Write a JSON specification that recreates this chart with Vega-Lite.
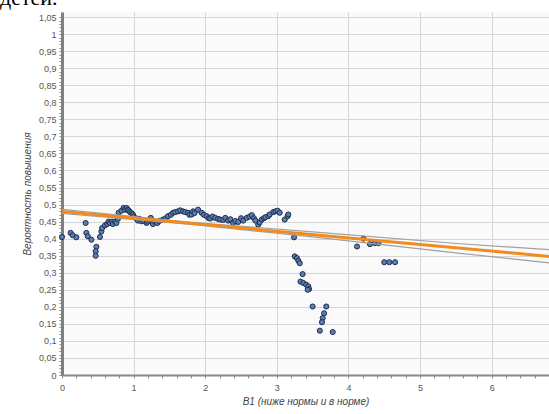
{
  "$schema": "https://vega.github.io/schema/vega-lite/v6.json",
  "width": 487,
  "height": 363,
  "autosize": "none",
  "padding": {"left": 62, "top": 12, "right": 0, "bottom": 39},
  "background": "white",
  "title": {
    "text": "детей.",
    "anchor": "start",
    "frame": "group",
    "font": "Liberation Serif",
    "fontSize": 22,
    "fontWeight": "normal",
    "color": "#000000",
    "baseline": "alphabetic",
    "offset": 0,
    "dx": -62,
    "dy": 15
  },
  "config": {
    "view": {"fill": "#fafafa", "stroke": null},
    "axis": {
      "labelFont": "Liberation Sans",
      "titleFont": "Liberation Sans",
      "labelColor": "#555555",
      "titleColor": "#444444",
      "labelFontSize": 9,
      "titleFontSize": 10,
      "titleFontStyle": "italic",
      "titleFontWeight": "normal",
      "gridColor": "#d6d6d6",
      "gridWidth": 1,
      "domainColor": "#888888",
      "tickColor": "#888888",
      "labelOverlap": false,
      "labelBound": false,
      "labelFlush": false
    }
  },
  "datasets": {
    "pts": [
      {"x": 0.0, "y": 0.405}, {"x": 0.12, "y": 0.417}, {"x": 0.15, "y": 0.41}, {"x": 0.2, "y": 0.404},
      {"x": 0.33, "y": 0.446}, {"x": 0.34, "y": 0.417}, {"x": 0.36, "y": 0.407}, {"x": 0.41, "y": 0.397},
      {"x": 0.48, "y": 0.376}, {"x": 0.47, "y": 0.363}, {"x": 0.47, "y": 0.35}, {"x": 0.53, "y": 0.405},
      {"x": 0.55, "y": 0.421}, {"x": 0.56, "y": 0.431}, {"x": 0.6, "y": 0.439}, {"x": 0.63, "y": 0.443},
      {"x": 0.65, "y": 0.45}, {"x": 0.67, "y": 0.446}, {"x": 0.7, "y": 0.45}, {"x": 0.71, "y": 0.443},
      {"x": 0.74, "y": 0.45}, {"x": 0.76, "y": 0.446}, {"x": 0.78, "y": 0.458}, {"x": 0.79, "y": 0.476},
      {"x": 0.83, "y": 0.482}, {"x": 0.86, "y": 0.49}, {"x": 0.88, "y": 0.485}, {"x": 0.9, "y": 0.49},
      {"x": 0.92, "y": 0.485}, {"x": 0.93, "y": 0.483}, {"x": 0.95, "y": 0.478}, {"x": 0.97, "y": 0.475},
      {"x": 0.99, "y": 0.471}, {"x": 1.0, "y": 0.465}, {"x": 1.03, "y": 0.46}, {"x": 1.06, "y": 0.453},
      {"x": 1.08, "y": 0.458}, {"x": 1.11, "y": 0.451}, {"x": 1.14, "y": 0.452}, {"x": 1.18, "y": 0.446},
      {"x": 1.2, "y": 0.45}, {"x": 1.22, "y": 0.455}, {"x": 1.24, "y": 0.461}, {"x": 1.27, "y": 0.443},
      {"x": 1.3, "y": 0.45}, {"x": 1.33, "y": 0.446}, {"x": 1.36, "y": 0.452}, {"x": 1.41, "y": 0.456},
      {"x": 1.45, "y": 0.46}, {"x": 1.48, "y": 0.466}, {"x": 1.52, "y": 0.47}, {"x": 1.55, "y": 0.476},
      {"x": 1.58, "y": 0.478}, {"x": 1.62, "y": 0.48}, {"x": 1.65, "y": 0.483}, {"x": 1.69, "y": 0.48},
      {"x": 1.72, "y": 0.478}, {"x": 1.76, "y": 0.476}, {"x": 1.78, "y": 0.47}, {"x": 1.81, "y": 0.471},
      {"x": 1.83, "y": 0.48}, {"x": 1.85, "y": 0.475}, {"x": 1.9, "y": 0.485}, {"x": 1.95, "y": 0.476},
      {"x": 1.98, "y": 0.47}, {"x": 2.02, "y": 0.466}, {"x": 2.05, "y": 0.46}, {"x": 2.07, "y": 0.459},
      {"x": 2.1, "y": 0.465}, {"x": 2.14, "y": 0.461}, {"x": 2.18, "y": 0.458}, {"x": 2.21, "y": 0.456},
      {"x": 2.25, "y": 0.455}, {"x": 2.28, "y": 0.461}, {"x": 2.32, "y": 0.453}, {"x": 2.35, "y": 0.457},
      {"x": 2.39, "y": 0.446}, {"x": 2.42, "y": 0.452}, {"x": 2.46, "y": 0.449}, {"x": 2.5, "y": 0.46},
      {"x": 2.53, "y": 0.453}, {"x": 2.58, "y": 0.461}, {"x": 2.62, "y": 0.465}, {"x": 2.65, "y": 0.469},
      {"x": 2.68, "y": 0.46}, {"x": 2.7, "y": 0.453}, {"x": 2.74, "y": 0.441}, {"x": 2.76, "y": 0.448},
      {"x": 2.79, "y": 0.456}, {"x": 2.82, "y": 0.46}, {"x": 2.84, "y": 0.463}, {"x": 2.88, "y": 0.466},
      {"x": 2.9, "y": 0.471}, {"x": 2.95, "y": 0.478}, {"x": 2.98, "y": 0.48}, {"x": 3.01, "y": 0.482},
      {"x": 3.04, "y": 0.476}, {"x": 3.11, "y": 0.456}, {"x": 3.15, "y": 0.466}, {"x": 3.16, "y": 0.471},
      {"x": 3.24, "y": 0.404}, {"x": 3.25, "y": 0.348}, {"x": 3.28, "y": 0.343}, {"x": 3.3, "y": 0.335},
      {"x": 3.32, "y": 0.328}, {"x": 3.36, "y": 0.296}, {"x": 3.33, "y": 0.274}, {"x": 3.37, "y": 0.27},
      {"x": 3.41, "y": 0.265}, {"x": 3.44, "y": 0.26}, {"x": 3.45, "y": 0.252}, {"x": 3.43, "y": 0.25},
      {"x": 3.5, "y": 0.201}, {"x": 3.69, "y": 0.201}, {"x": 3.66, "y": 0.181}, {"x": 3.64, "y": 0.167},
      {"x": 3.63, "y": 0.155}, {"x": 3.6, "y": 0.13}, {"x": 3.78, "y": 0.126},
      {"x": 4.12, "y": 0.377}, {"x": 4.21, "y": 0.4}, {"x": 4.3, "y": 0.384}, {"x": 4.37, "y": 0.387},
      {"x": 4.42, "y": 0.387}, {"x": 4.5, "y": 0.331}, {"x": 4.57, "y": 0.331}, {"x": 4.65, "y": 0.331}
    ],
    "fit": [
      {"x": 0, "y": 0.486, "s": "upper"}, {"x": 1.8, "y": 0.448, "s": "upper"}, {"x": 3.5, "y": 0.42, "s": "upper"},
      {"x": 5.56, "y": 0.385, "s": "upper"}, {"x": 6.8, "y": 0.368, "s": "upper"},
      {"x": 0, "y": 0.474, "s": "lower"}, {"x": 1.8, "y": 0.442, "s": "lower"}, {"x": 3.5, "y": 0.405, "s": "lower"},
      {"x": 5.56, "y": 0.357, "s": "lower"}, {"x": 6.8, "y": 0.329, "s": "lower"},
      {"x": 0, "y": 0.48, "s": "fit"}, {"x": 6.8, "y": 0.348, "s": "fit"}
    ]
  },
  "encoding": {
    "x": {
      "field": "x", "type": "quantitative",
      "scale": {"domain": [0, 6.8], "nice": false, "zero": false},
      "axis": {
        "title": "B1 (ниже нормы и в норме)",
        "values": [0,0.2,0.4,0.6,0.8,1,1.2,1.4,1.6,1.8,2,2.2,2.4,2.6,2.8,3,3.2,3.4,3.6,3.8,4,4.2,4.4,4.6,4.8,5,5.2,5.4,5.6,5.8,6,6.2,6.4,6.6,6.8],
        "labelExpr": "abs(datum.value-round(datum.value))<0.001 ? format(datum.value,'d') : ''",
        "gridOpacity": {"condition": {"test": "abs(datum.value-round(datum.value))<0.001", "value": 1}, "value": 0},
        "tickSize": 3,
        "domainWidth": 2,
        "labelPadding": 5,
        "titlePadding": 4
      }
    },
    "y": {
      "field": "y", "type": "quantitative",
      "scale": {"domain": [0, 1.065], "nice": false, "zero": false},
      "axis": {
        "title": "Вероятность повышения",
        "values": [0,0.01,0.02,0.03,0.04,0.05,0.06,0.07,0.08,0.09,0.1,0.11,0.12,0.13,0.14,0.15,0.16,0.17,0.18,0.19,0.2,0.21,0.22,0.23,0.24,0.25,0.26,0.27,0.28,0.29,0.3,0.31,0.32,0.33,0.34,0.35,0.36,0.37,0.38,0.39,0.4,0.41,0.42,0.43,0.44,0.45,0.46,0.47,0.48,0.49,0.5,0.51,0.52,0.53,0.54,0.55,0.56,0.57,0.58,0.59,0.6,0.61,0.62,0.63,0.64,0.65,0.66,0.67,0.68,0.69,0.7,0.71,0.72,0.73,0.74,0.75,0.76,0.77,0.78,0.79,0.8,0.81,0.82,0.83,0.84,0.85,0.86,0.87,0.88,0.89,0.9,0.91,0.92,0.93,0.94,0.95,0.96,0.97,0.98,0.99,1,1.01,1.02,1.03,1.04,1.05],
        "labelExpr": "abs(datum.value*20-round(datum.value*20))<0.001 ? replace(format(datum.value,'.2~f'),'.',',') : ''",
        "gridOpacity": {"condition": {"test": "abs(datum.value*20-round(datum.value*20))<0.001", "value": 1}, "value": 0},
        "tickSize": 3,
        "domainWidth": 3,
        "domainColor": "#808080",
        "labelPadding": 3,
        "titlePadding": 6
      }
    }
  },
  "layer": [
    {
      "data": {"name": "pts"},
      "mark": {"type": "point", "shape": "circle", "filled": true, "size": 26, "fill": "#5a7db5", "stroke": "#1e2d4a", "strokeWidth": 1, "opacity": 1}
    },
    {
      "data": {"name": "fit"},
      "transform": [{"filter": "datum.s != 'fit'"}],
      "mark": {"type": "line", "color": "#a0a0a0", "strokeWidth": 1.2},
      "encoding": {"detail": {"field": "s"}}
    },
    {
      "data": {"name": "fit"},
      "transform": [{"filter": "datum.s == 'fit'"}],
      "mark": {"type": "line", "color": "#f28a1e", "strokeWidth": 3},
      "encoding": {}
    }
  ]
}
